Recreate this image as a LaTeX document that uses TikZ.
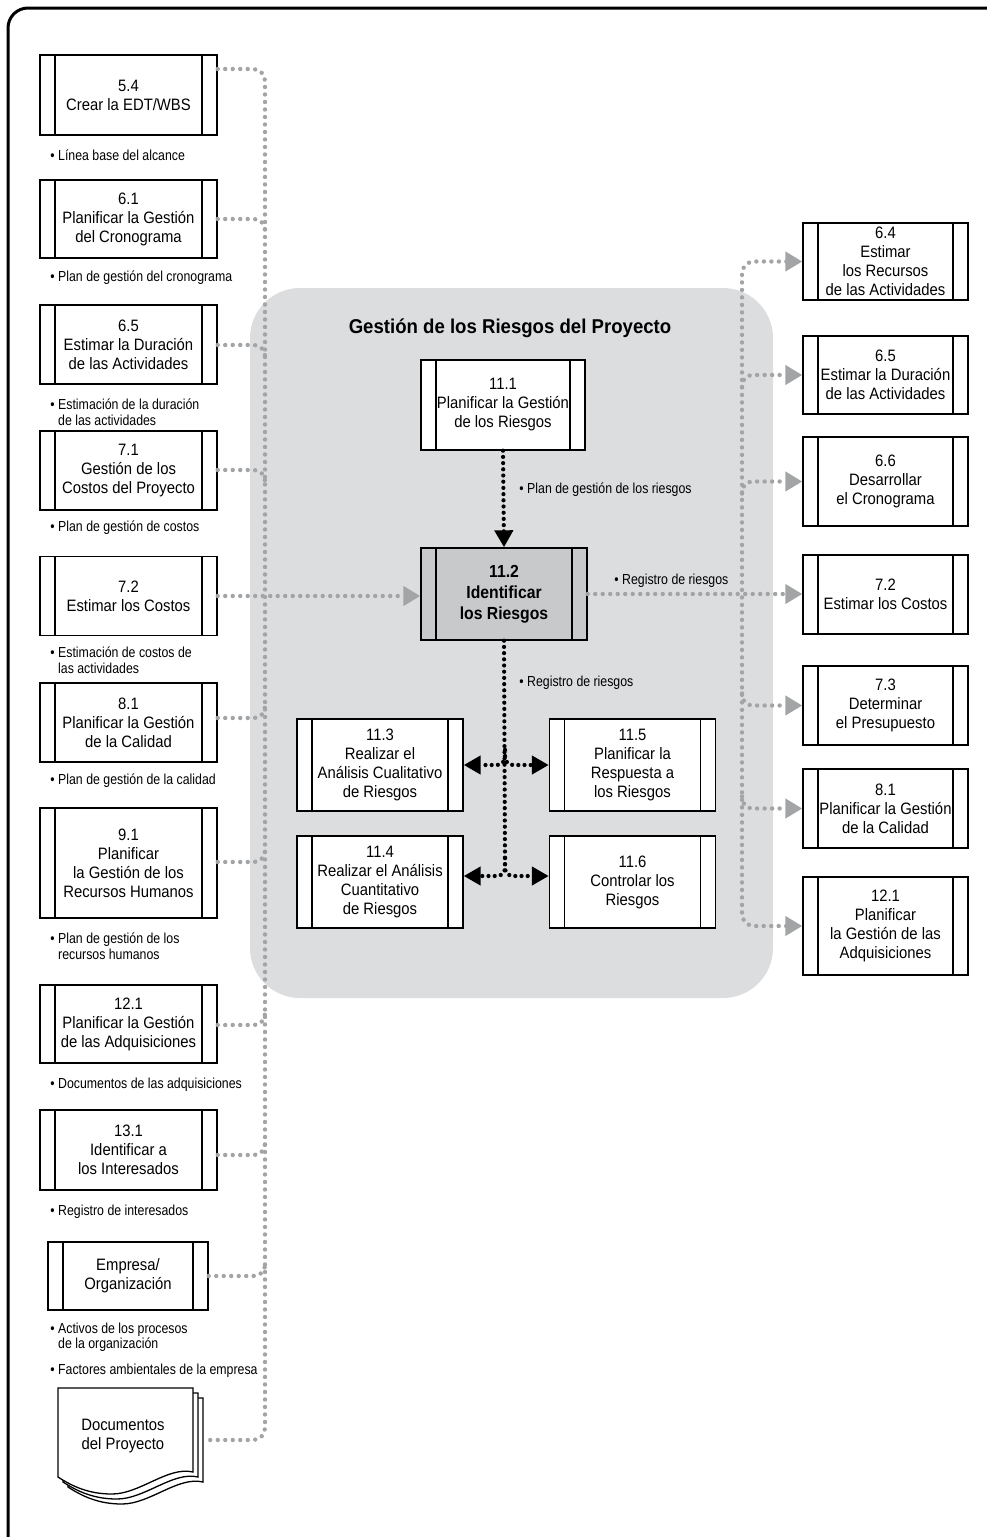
\documentclass[tikz,border=0pt]{standalone}
\usepackage{fontspec}
\setmainfont{Liberation Sans}
\newfontfamily\boxfont[FakeStretch=0.9]{Liberation Sans}
\newfontfamily\lblfont[FakeStretch=0.85]{Liberation Sans}
\newfontfamily\titlefont[FakeStretch=0.93]{Liberation Sans}
\usetikzlibrary{arrows.meta,calc}
\definecolor{dotgray}{HTML}{A3A4A6}
\definecolor{regiongray}{HTML}{DCDDDF}
\definecolor{boxgray}{HTML}{C8C9CB}
\begin{document}
\begin{tikzpicture}[x=1pt,y=-1pt,
  proc/.style={draw=black, line width=1.4pt, fill=white, align=center, inner sep=0pt,
    font=\boxfont\fontsize{16.5}{19}\selectfont,
    path picture={
      \draw[line width=1.4pt] ([xshift=15pt]path picture bounding box.south west) -- ([xshift=15pt]path picture bounding box.north west);
      \draw[line width=1.4pt] ([xshift=-15pt]path picture bounding box.south east) -- ([xshift=-15pt]path picture bounding box.north east);}},
  lproc/.style={proc, minimum width=177pt},
  rproc/.style={proc, minimum width=165pt},
  cproc/.style={proc, minimum width=166pt},
  lbl/.style={anchor=west, align=left, inner sep=0pt, font=\lblfont\fontsize{14.5}{15.5}\selectfont},
  gdot/.style={draw=dotgray, line width=4.4pt, line cap=round, dash pattern=on 0pt off 7.5pt},
  bdot/.style={draw=black, line width=4.2pt, line cap=round, dash pattern=on 0pt off 6.2pt},
  gtip/.style={-{Triangle[length=17pt,width=19pt,fill=dotgray,color=dotgray]}},
  btip/.style={-{Triangle[length=17pt,width=18pt,fill=black,color=black]}}
]
\useasboundingbox (0,0) rectangle (987,1537);
% outer frame
\draw[line width=3pt, rounded corners=20pt] (8,1545) -- (8,8) -- (995,8);
% grey region
\fill[regiongray, rounded corners=50pt] (250,288) rectangle (773,998);
\node[font=\titlefont\bfseries\fontsize{20}{22}\selectfont, inner sep=0pt] (title) at (510,328) {Gestión de los Riesgos del Proyecto};

% left boxes
\node[lproc, minimum height=80pt] (l54) at (128.5,95) {5.4\\Crear la EDT/WBS};
\node[lproc, minimum height=78pt] (l61) at (128.5,219) {6.1\\Planificar la Gestión\\del Cronograma};
\node[lproc, minimum height=79pt] (l65) at (128.5,344.5) {6.5\\Estimar la Duración\\de las Actividades};
\node[lproc, minimum height=79pt] (l71) at (128.5,470.5) {7.1\\Gestión de los\\Costos del Proyecto};
\node[lproc, minimum height=79pt] (l72) at (128.5,596) {7.2\\Estimar los Costos};
\node[lproc, minimum height=79pt] (l81) at (128.5,722.5) {8.1\\Planificar la Gestión\\de la Calidad};
\node[lproc, minimum height=110pt] (l91) at (128.5,863) {9.1\\Planificar\\la Gestión de los\\Recursos Humanos};
\node[lproc, minimum height=78pt] (l121) at (128.5,1024) {12.1\\Planificar la Gestión\\de las Adquisiciones};
\node[lproc, minimum height=80pt] (l131) at (128.5,1150) {13.1\\Identificar a\\los Interesados};
\node[proc, minimum width=160pt, minimum height=68pt] (emp) at (128,1276) {Empresa/\\Organización};

% left labels
\node[lbl] (t1) at (58,155) {\llap{•\ }Línea base del alcance};
\node[lbl] (t2) at (58,278) {\llap{•\ }Plan de gestión del cronograma};
\node[lbl] (t3) at (58,412) {\llap{•\ }Estimación de la duración\\de las actividades};
\node[lbl] (t4) at (58,528) {\llap{•\ }Plan de gestión de costos};
\node[lbl] (t5) at (58,660) {\llap{•\ }Estimación de costos de\\las actividades};
\node[lbl] (t6) at (58,781) {\llap{•\ }Plan de gestión de la calidad};
\node[lbl] (t7) at (58,946) {\llap{•\ }Plan de gestión de los\\recursos humanos};
\node[lbl] (t8) at (58,1085) {\llap{•\ }Documentos de las adquisiciones};
\node[lbl] (t9) at (58,1212) {\llap{•\ }Registro de interesados};
\node[lbl] (t10) at (58,1337) {\llap{•\ }Activos de los procesos\\de la organización};
\node[lbl] (t11) at (58,1371) {\llap{•\ }Factores ambientales de la empresa};

% document stack
\foreach \o in {10,5,0} {
  \filldraw[fill=white, draw=black, line width=1.3pt]
    (58+\o,1388+\o) -- (193+\o,1388+\o) -- (193+\o,1472+\o)
    .. controls (168+\o,1466+\o) and (140+\o,1494+\o) .. (112+\o,1494+\o)
    .. controls (88+\o,1494+\o) and (72+\o,1486+\o) .. (58+\o,1477+\o) -- cycle;
}
\node[align=center, inner sep=0pt, font=\boxfont\fontsize{16.5}{19}\selectfont] (doc) at (123,1436) {Documentos\\del Proyecto};
\coordinate (docR) at (207,1440);

% left bus
\draw[gdot, rounded corners=12pt] (l54.east |- 0,69) -- (265,69) -- (265,1440) -- (docR);
\foreach \n/\y in {l61/219, l65/345, l71/470} {
  \draw[gdot] (\n.east |- 0,\y) -- (252,\y) .. controls (260,\y) and (265,\y+4) .. (265,\y+12);
}
\foreach \n/\y in {l81/718, l91/862, l121/1025, l131/1155, emp/1276} {
  \draw[gdot] (\n.east |- 0,\y) -- (252,\y) .. controls (260,\y) and (265,\y-4) .. (265,\y-12);
}

% center boxes
\node[cproc, minimum width=164pt, minimum height=90pt] (c111) at (503,405) {11.1\\Planificar la Gestión\\de los Riesgos};
\node[cproc, fill=boxgray, minimum height=92pt, font=\boxfont\bfseries\fontsize{17.5}{21}\selectfont] (c112) at (504,594) {11.2\\Identificar\\los Riesgos};
\node[cproc, minimum height=92pt] (c113) at (380,765) {11.3\\Realizar el\\Análisis Cualitativo\\de Riesgos};
\node[cproc, minimum height=92pt] (c115) at (632.5,765) {11.5\\Planificar la\\Respuesta a\\los Riesgos};
\node[cproc, minimum height=92pt] (c114) at (380,882) {11.4\\Realizar el Análisis\\Cuantitativo\\de Riesgos};
\node[cproc, minimum height=92pt] (c116) at (632.5,882) {11.6\\Controlar los\\Riesgos};

% right boxes
\node[rproc, minimum height=77pt] (r64) at (885.5,261.5) {6.4\\Estimar\\los Recursos\\de las Actividades};
\node[rproc, minimum height=78pt] (r65) at (885.5,375) {6.5\\Estimar la Duración\\de las Actividades};
\node[rproc, minimum height=89pt] (r66) at (885.5,481.5) {6.6\\Desarrollar\\el Cronograma};
\node[rproc, minimum height=79pt] (r72) at (885.5,594.5) {7.2\\Estimar los Costos};
\node[rproc, minimum height=79pt] (r73) at (885.5,705.5) {7.3\\Determinar\\el Presupuesto};
\node[rproc, minimum height=79pt] (r81) at (885.5,808.5) {8.1\\Planificar la Gestión\\de la Calidad};
\node[rproc, minimum height=98pt] (r121) at (885.5,926) {12.1\\Planificar\\la Gestión de las\\Adquisiciones};

% input into 11.2
\draw[gdot, gtip] (l72.east) -- (c112.west |- l72.east);
% output of 11.2 to the right
\draw[gdot, gtip] (c112.east) -- (r72.west |- c112.east);
\draw[gdot, rounded corners=12pt, {Triangle[length=17pt,width=19pt,fill=dotgray,color=dotgray]}-{Triangle[length=17pt,width=19pt,fill=dotgray,color=dotgray]}]
  (r64.west) -- (742,261.5) -- (742,926) -- (r121.west);
\foreach \n/\y in {r65/375, r66/481.5} {
  \draw[gdot, gtip] (742,\y+12) .. controls (742,\y+4) and (746,\y) .. (754,\y) -- (\n.west);
}
\foreach \n/\y in {r73/705.5, r81/808.5} {
  \draw[gdot, gtip] (742,\y-12) .. controls (742,\y-4) and (746,\y) .. (754,\y) -- (\n.west);
}

% black flows
\draw[bdot, btip] (c111.south) -- (c112.north);
\draw[bdot] (c112.south) -- (505,860);
\draw[bdot, btip, rounded corners=8pt] (505,750) |- (c113.east);
\draw[bdot, btip, rounded corners=8pt] (505,750) |- (c115.west);
\draw[bdot, btip, rounded corners=8pt] (505,858) |- (c114.east |- 0,876);
\draw[bdot, btip, rounded corners=8pt] (505,858) |- (c116.west |- 0,876);

% center labels
\node[lbl] (p1) at (527,490) {\llap{•\ }Plan de gestión de los riesgos};
\node[lbl] (p2) at (622,581) {\llap{•\ }Registro de riesgos};
\node[lbl] (p3) at (527,683) {\llap{•\ }Registro de riesgos};
\end{tikzpicture}
\end{document}
